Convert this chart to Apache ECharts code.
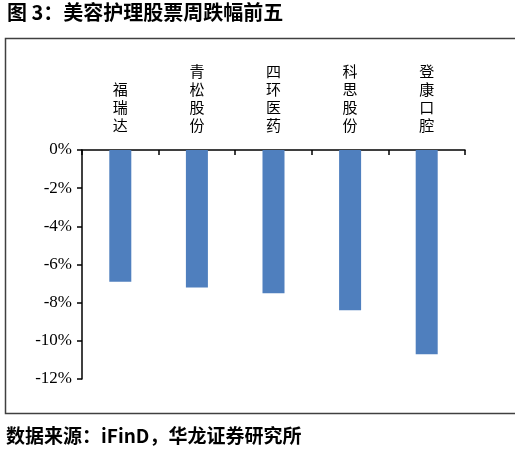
<!DOCTYPE html>
<html>
<head>
<meta charset="utf-8">
<script src="https://cdn.jsdelivr.net/npm/echarts@6/dist/echarts.min.js"></script>
<style>
  html, body { margin: 0; padding: 0; background: #fff; }
  #chart { width: 521px; height: 457px; }
</style>
</head>
<body>
<div id="chart"></div>
<script>
const titleText = '图 3：美容护理股票周跌幅前五';
const sourceText = '数据来源：iFinD，华龙证券研究所';
const stocks = ['福瑞达', '青松股份', '四环医药', '科思股份', '登康口腔'];
const weeklyChange = [-6.9, -7.2, -7.5, -8.4, -10.7];
const yTicks = { min: -12, max: 0, step: 2 };

const chart = echarts.init(document.getElementById('chart'), null, { renderer: 'canvas' });

const serif = '"Liberation Serif", "Times New Roman", serif';
const cjk = '"Noto Sans CJK SC", "Noto Sans", sans-serif';

const option = {
  animation: false,
  backgroundColor: '#fff',
  graphic: [
    {
      type: 'text',
      left: 7,
      top: 2,
      style: {
        text: titleText,
        font: 'bold 20px ' + cjk,
        fill: '#000',
      },
    },
    {
      type: 'polyline',
      shape: { points: [[515, 38.5], [5.5, 38.5], [5.5, 413.5], [515, 413.5]] },
      style: { stroke: '#404040', lineWidth: 1.5, fill: null },
    },
    {
      type: 'text',
      left: 6,
      top: 426,
      style: {
        text: sourceText,
        font: 'bold 19px ' + cjk,
        fill: '#000',
      },
    },
  ],
  grid: {
    left: 82,
    right: 56,
    top: 150,
    bottom: 78,
    containLabel: false,
  },
  xAxis: {
    type: 'category',
    position: 'top',
    data: stocks,
    axisLine: { show: true, onZero: false, lineStyle: { color: '#000', width: 1.5 } },
    axisTick: { show: true, inside: true, length: 5, lineStyle: { color: '#000', width: 1.5 } },
    axisLabel: {
      margin: 16,
      fontFamily: cjk,
      fontSize: 15,
      lineHeight: 18,
      color: '#000',
      verticalAlign: 'bottom',
      formatter: (v) => v.split('').join('\n'),
    },
  },
  yAxis: {
    type: 'value',
    min: yTicks.min,
    max: yTicks.max,
    interval: yTicks.step,
    splitLine: { show: false },
    axisLine: { show: true, lineStyle: { color: '#000', width: 1.5 } },
    axisTick: { show: true, length: 5, lineStyle: { color: '#000', width: 1.5 } },
    axisLabel: {
      margin: 10,
      fontFamily: serif,
      fontSize: 17,
      color: '#000',
      formatter: (v) => v + '%',
    },
  },
  series: [
    {
      type: 'bar',
      data: weeklyChange,
      barWidth: 22,
      itemStyle: { color: '#4F7FBE' },
    },
  ],
};

chart.setOption(option);
</script>
</body>
</html>
